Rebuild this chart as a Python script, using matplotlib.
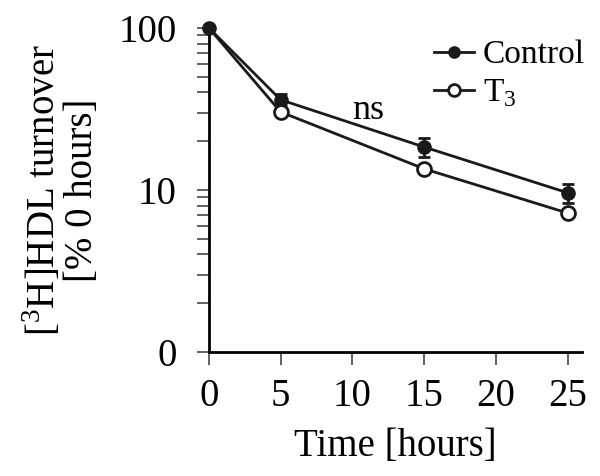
import numpy as np
import matplotlib.pyplot as plt
from matplotlib.ticker import FixedLocator, FixedFormatter, LogLocator, NullFormatter

plt.rcParams['font.family'] = ['Liberation Serif', 'DejaVu Serif']
plt.rcParams['mathtext.fontset'] = 'custom'
plt.rcParams['mathtext.rm'] = 'Liberation Serif'

time_h = [0, 5, 15, 25]
control = [100, 36, 18.4, 9.6]
control_err = [0, 3.0, 2.5, 1.3]
t3 = [100, 30.3, 13.5, 7.2]

ytick_vals = [1, 10, 100]
ytick_labels = ['0', '10', '100']

fig = plt.figure(figsize=(6, 4.76), dpi=100)
ax = fig.add_axes([0.348, 0.2605, 0.622, 0.681])

ink = '#1a1a1a'
ax.errorbar(time_h, control, yerr=control_err, fmt='none', ecolor=ink,
            capsize=4, elinewidth=2, capthick=2, zorder=2)
ax.plot(time_h, control, color=ink, lw=2, marker='o', ms=9.5,
        mfc=ink, mec=ink, label='Control', zorder=4, clip_on=False)
# T3 shares the 0 h point with Control, so only its later markers are drawn
ax.plot(time_h, t3, color=ink, lw=2, marker='o', ms=10,
        mfc='white', mec=ink, mew=2, markevery=slice(1, None),
        label='T$_3$', zorder=5, clip_on=False)

ax.set_yscale('log')
ax.set_ylim(1, 100)
ax.set_xlim(0, 26)
ax.yaxis.set_major_locator(FixedLocator(ytick_vals))
ax.yaxis.set_major_formatter(FixedFormatter(ytick_labels))
ax.yaxis.set_minor_locator(LogLocator(base=10, subs=np.arange(2, 10)))
ax.yaxis.set_minor_formatter(NullFormatter())
ax.set_xticks([0, 5, 10, 15, 20, 25])

for s in ['top', 'right']:
    ax.spines[s].set_visible(False)
for s in ['left', 'bottom']:
    ax.spines[s].set_linewidth(2)
ax.tick_params(axis='both', which='major', length=9, width=1.3,
               labelsize=28, color='#555555', direction='out')
ax.tick_params(axis='y', which='major', pad=14)
ax.tick_params(axis='x', which='major', pad=10)
ax.tick_params(axis='y', which='minor', length=9, width=1.3, color='#555555')

ax.text(11.1, 31, 'ns', fontsize=26, ha='center', va='center')

ax.set_xlabel('Time [hours]', fontsize=28)
ax.xaxis.set_label_coords(0.5, -0.235)
ax.set_ylabel('[$^3$H]HDL turnover\n[% 0 hours]', fontsize=28,
              linespacing=1.0)
ax.yaxis.set_label_coords(-0.29, 0.5)

leg = ax.legend(loc='upper right', bbox_to_anchor=(1.07, 1.035), frameon=False,
                fontsize=24, handlelength=1.2, handletextpad=0.25,
                labelspacing=0.22, borderpad=0.2, markerscale=0.85)

fig.savefig('out.png', dpi=100)
